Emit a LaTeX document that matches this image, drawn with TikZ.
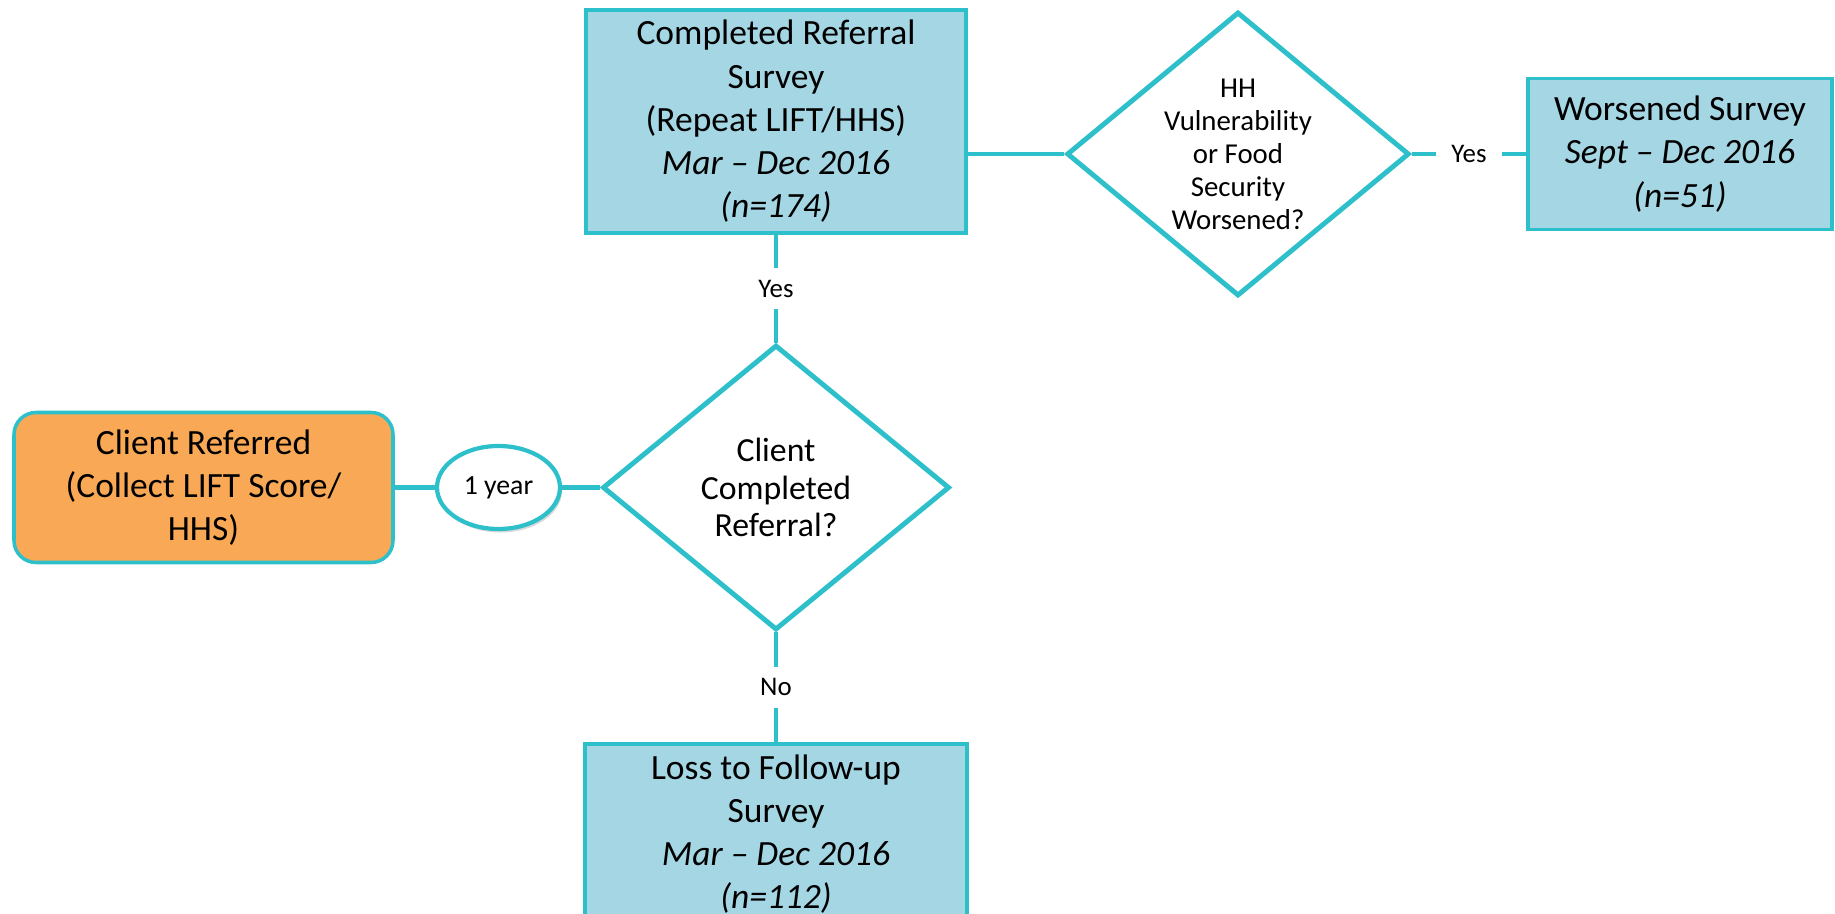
\documentclass[tikz,border=0pt]{standalone}
\usepackage{fontspec}
\setmainfont{Carlito}
\usetikzlibrary{shapes.geometric,shadows}
\definecolor{edgeblue}{RGB}{46,192,202}
\definecolor{boxblue}{RGB}{165,214,228}
\definecolor{refOrange}{RGB}{249,169,86}
\pgfdeclarelayer{bg}
\pgfsetlayers{bg,main}
\tikzstyle{survey}=[draw=edgeblue, fill=boxblue, line width=2pt, shape=rectangle, align=center, inner sep=0pt, font=\fontsize{20.2}{24.6}\selectfont]
\tikzstyle{start}=[survey, fill=refOrange, rounded corners=0.44cm]
\tikzstyle{ask}=[draw=edgeblue, fill=white, line width=2.8pt, shape=diamond, align=center, inner sep=0pt]
\tikzstyle{lapse}=[draw=edgeblue, fill=white, line width=2.4pt, shape=ellipse, inner sep=0pt, minimum width=2.46cm, minimum height=1.66cm, font=\fontsize{15.8}{18}\selectfont, drop shadow={shadow xshift=0.04cm, shadow yshift=-0.07cm, opacity=0.3, fill=gray}]
\tikzstyle{yesno}=[fill=white, inner xsep=0.3cm, inner ysep=0.24cm, font=\fontsize{15.3}{17}\selectfont]
\tikzstyle{wire}=[-, draw=edgeblue, line width=2.4pt]

\begin{document}
\begin{tikzpicture}
    \clip (0, 0) rectangle (36.7, -18.28);

    \node [start, minimum width=7.58cm, minimum height=3cm] (ref) at (4.07, -9.75) {Client Referred\\(Collect LIFT Score/\\HHS)};
    \node [lapse] (yr) at (9.97, -9.75) {1 year};
    \node [ask, minimum width=6.94cm, minimum height=5.7cm, font=\fontsize{19.2}{21.4}\selectfont] (done) at (15.52, -9.75) {Client\\Completed\\Referral?};

    \node [survey, minimum width=7.6cm, minimum height=4.46cm] (rep) at (15.52, -2.43) {Completed Referral\\Survey\\(Repeat LIFT/HHS)\\\textit{Mar – Dec 2016}\\\textit{(n=174)}};
    \node [ask, aspect=1.2, minimum width=6.85cm, minimum height=5.68cm, font=\fontsize{16.4}{18.8}\selectfont] (worse) at (24.76, -3.08) {HH\\Vulnerability\\or Food\\Security\\Worsened?};
    \node [survey, minimum width=6.08cm, minimum height=3.02cm] (wsurv) at (33.6, -3.08) {Worsened Survey\\\textit{Sept – Dec 2016}\\\textit{(n=51)}};

    \node [survey, minimum width=7.64cm, minimum height=3.6cm] (lost) at (15.52, -16.68) {Loss to Follow-up\\Survey\\\textit{Mar – Dec 2016}\\\textit{(n=112)}};

    \begin{pgfonlayer}{bg}
        \draw [wire] (ref) -- (yr) -- (done);
        \draw [wire] (done) -- node [yesno] {Yes} (rep);
        \draw [wire] (done) -- node [yesno] {No} (lost);
        \draw [wire] (rep.east |- worse.west) -- (worse);
        \draw [wire] (worse) -- node [yesno] {Yes} (wsurv);
    \end{pgfonlayer}
\end{tikzpicture}
\end{document}
